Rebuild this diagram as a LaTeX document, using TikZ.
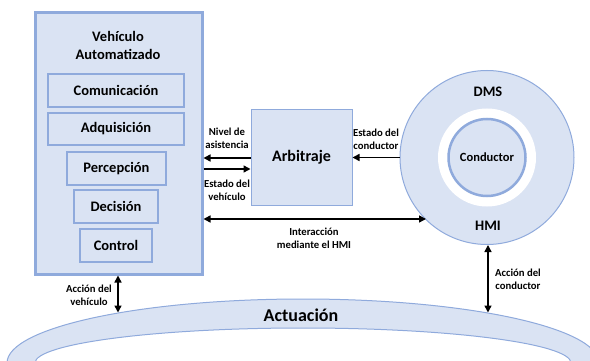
\documentclass[tikz,border=0pt]{standalone}
\usepackage{fontspec}
\setmainfont{Carlito}
\usetikzlibrary{arrows.meta}
\definecolor{boxfill}{HTML}{DAE3F3}
\definecolor{boxline}{HTML}{8FAADC}
\tikzset{
  subbox/.style={draw=boxline, fill=boxfill, line width=1.2pt, minimum height=33pt, inner sep=0pt,
    font=\fontsize{14.5}{17}\selectfont\bfseries},
  lbl/.style={align=center, inner sep=0pt, font=\fontsize{10.7}{13}\selectfont\bfseries},
  arr/.style={line width=1.5pt, -{Triangle[length=7pt,width=7pt]}},
  darr/.style={line width=1.5pt, {Triangle[length=7pt,width=7pt]}-{Triangle[length=7pt,width=7pt]}},
}
\begin{document}
\begin{tikzpicture}[x=1pt,y=-1pt]
\useasboundingbox (0,0) rectangle (590,361);
% actuation band
\begin{scope}
  \clip (0,0) rectangle (590,361);
  \fill[boxfill, even odd rule] (303,363) ellipse [x radius=296pt, y radius=64pt]
        (303,363) ellipse [x radius=268pt, y radius=35pt];
  \draw[boxline, line width=1pt] (303,363) ellipse [x radius=296pt, y radius=64pt];
  \draw[boxline, line width=1pt] (303,363) ellipse [x radius=268pt, y radius=35pt];
\end{scope}
\node[font=\fontsize{18}{20}\selectfont\bfseries, inner sep=0pt] (act) at (301,315) {Actuación};
\coordinate (bandL) at (118,312.5);
\coordinate (bandR) at (488,312.5);
% vehicle
\node[draw=boxline, fill=boxfill, line width=3pt, minimum width=167pt, minimum height=261pt, inner sep=0pt] (veh) at (118.5,143.5) {};
\node[align=center, inner sep=0pt, font=\fontsize{14.5}{18}\selectfont\bfseries] (vtitle) at (118,45) {Vehículo\\Automatizado};
\node[subbox, minimum width=136pt] (com) at (116,90.5) {Comunicación};
\node[subbox, minimum width=136pt, minimum height=32pt] (adq) at (116,129) {Adquisición};
\node[subbox, minimum width=99pt] (per) at (116.5,168.5) {Percepción};
\node[subbox, minimum width=84pt] (dec) at (116,206.5) {Decisión};
\node[subbox, minimum width=72pt] (ctl) at (116,245.5) {Control};
% arbitraje
\node[draw=boxline, fill=boxfill, line width=1pt, minimum width=101pt, minimum height=95pt, inner sep=0pt,
  font=\fontsize{16}{18}\selectfont\bfseries] (arb) at (301.5,157.5) {Arbitraje};
% driver circles
\node[circle, draw=boxline, fill=boxfill, line width=1pt, minimum size=174pt, inner sep=0pt] (ring) at (487,157.5) {};
\node[circle, fill=white, minimum size=98pt, inner sep=0pt] (gap) at (487,157.5) {};
\node[circle, draw=boxline, fill=boxfill, line width=2.5pt, minimum size=77pt, inner sep=0pt,
  font=\fontsize{12.5}{14}\selectfont\bfseries] (cond) at (487,157.5) {Conductor};
\node[inner sep=0pt, font=\fontsize{14.5}{17}\selectfont\bfseries] (dms) at (488,92) {DMS};
\node[inner sep=0pt, font=\fontsize{14.5}{17}\selectfont\bfseries] (hmi) at (488,226) {HMI};
\coordinate (ringin) at (426,219);
% arrows
\draw[arr] (arb.west |- 0,158) -- (veh.east |- 0,158);
\draw[arr] (veh.east |- 0,169) -- (arb.west |- 0,169);
\draw[arr] (ring.west) -- (arb.east |- ring.west);
\draw[darr] (veh.east |- 0,219) -- (ringin);
\draw[darr] (veh.south -| 118,0) -- (bandL);
\draw[darr] (ring.south -| 488,0) -- (bandR);
% labels
\node[lbl] (l1) at (227,138.5) {Nivel de\\asistencia};
\node[lbl] (l2) at (227,190.5) {Estado del\\vehículo};
\node[lbl] (l3) at (376,139) {Estado del\\conductor};
\node[lbl] (l4) at (314,238.5) {Interacción\\mediante el HMI};
\node[lbl] (l5) at (89,295) {Acción del\\vehículo};
\node[lbl] (l6) at (518,279.5) {Acción del\\conductor};
\end{tikzpicture}
\end{document}
